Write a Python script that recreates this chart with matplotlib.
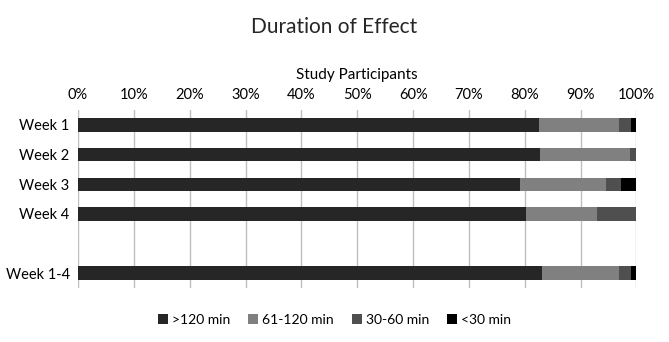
import matplotlib
matplotlib.use('Agg')
import matplotlib.pyplot as plt
import numpy as np

plt.rcParams['font.family'] = ['Lato', 'DejaVu Sans']

weeks = ['Week 1', 'Week 2', 'Week 3', 'Week 4', '', 'Week 1-4']
gt120 = [82.5, 82.8, 79.1, 80.2, 0, 83.0]
m61_120 = [14.4, 16.0, 15.4, 12.7, 0, 13.9]
m30_60 = [2.1, 1.2, 2.7, 7.1, 0, 2.1]
lt30 = [1.0, 0.0, 2.8, 0.0, 0, 1.0]
series = [gt120, m61_120, m30_60, lt30]
labels = ['>120 min', '61-120 min', '30-60 min', '<30 min']
colors = ['#262626', '#808080', '#4f4f4f', '#000000']

fig = plt.figure(figsize=(6.69, 3.42), dpi=100)
ax = fig.add_axes([0.1166, 0.158, 0.8348, 0.52])

y = np.arange(len(weeks))
left = np.zeros(len(weeks))
for vals, lab, c in zip(series, labels, colors):
    ax.barh(y, vals, left=left, height=0.45, color=c, label=lab, zorder=3)
    left += np.array(vals)

ax.set_xlim(0, 100)
ax.set_ylim(len(weeks) - 0.5, -0.5)
ax.set_yticks(y)
ax.set_yticklabels(weeks, fontsize=10.5)
ax.set_xticks(np.arange(0, 101, 10))
ax.set_xticklabels([f'{v}%' for v in range(0, 101, 10)], fontsize=10.5)
ax.xaxis.tick_top()
ax.xaxis.set_label_position('top')
ax.set_xlabel('Study Participants', fontsize=11, labelpad=6)
ax.tick_params(length=0, pad=6)
ax.grid(axis='x', color='#bfbfbf', linewidth=1, zorder=0)
for s in ax.spines.values():
    s.set_visible(False)

fig.suptitle('Duration of Effect', fontsize=15, y=0.95, color='#262626')
fig.legend(loc='lower center', ncol=4, frameon=False, fontsize=10,
           handlelength=0.7, handleheight=0.7, handletextpad=0.3,
           columnspacing=1.3, bbox_to_anchor=(0.5, 0.01))

plt.savefig('out.png', dpi=100)
plt.close()
